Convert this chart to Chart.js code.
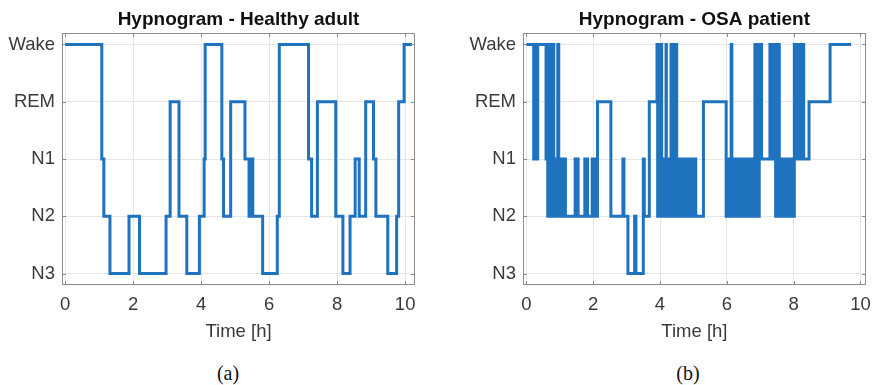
<!DOCTYPE html>
<html>
<head>
<meta charset="utf-8">
<script src="https://cdn.jsdelivr.net/npm/chart.js@4.4.0/dist/chart.umd.min.js"></script>
<style>
  html, body { margin: 0; padding: 0; background: #fff; }
  #wrap { position: relative; width: 880px; height: 385px; overflow: hidden; }
  .panel { position: absolute; top: 0; }
  .cap { position: absolute; top: 361px; line-height: 24px; font-size: 20px; font-family: "Liberation Serif", serif; color: #111; transform: translateX(-50%); }
</style>
</head>
<body>
<div id="wrap">
  <canvas id="healthy" class="panel" style="left:0" width="440" height="345"></canvas>
  <canvas id="osa" class="panel" style="left:440px" width="440" height="345"></canvas>
  <div class="cap" style="left:228px">(a)</div>
  <div class="cap" style="left:688px">(b)</div>
</div>
<script>
// sleep stages, bottom to top
const stageLabels = ["N3", "N2", "N1", "REM", "Wake"];
const timeTicks = [0, 2, 4, 6, 8, 10];

// healthy adult: start time of each stage [h]
const healthyTime = [0, 1.08, 1.14, 1.32, 1.88, 2.19, 2.97, 3.09, 3.35, 3.58, 3.95, 4.09, 4.12,
  4.61, 4.66, 4.87, 5.29, 5.41, 5.43, 5.45, 5.47, 5.49, 5.50, 5.52, 5.81, 6.24, 6.30, 7.16, 7.25,
  7.42, 7.96, 8.17, 8.38, 8.53, 8.65, 8.84, 9.07, 9.14, 9.49, 9.75, 9.81, 9.97, 10.2];
const healthyStage = ["Wake", "N1", "N2", "N3", "N2", "N3", "N2", "REM", "N2", "N3", "N2", "N1", "Wake",
  "N1", "N2", "REM", "N1", "N2", "N1", "N2", "N1", "N2", "N1", "N2", "N3", "N2", "Wake", "N1", "N2",
  "REM", "N2", "N3", "N2", "N1", "N2", "REM", "N1", "N2", "N3", "N2", "REM", "Wake", "Wake"];

// OSA patient
const osaTime = [0, 0.22, 0.25, 0.28, 0.34, 0.59, 0.62, 0.64, 0.67, 0.70, 0.73, 0.76, 0.79, 0.82,
  0.85, 0.88, 0.91, 0.94, 0.97, 1.00, 1.03, 1.06, 1.09, 1.12, 1.15, 1.17, 1.46, 1.55, 1.75, 1.83,
  1.97, 2.06, 2.13, 2.53, 2.89, 2.92, 3.04, 3.24, 3.28, 3.50, 3.53, 3.68, 3.91, 3.93, 3.95, 3.97,
  3.99, 4.01, 4.03, 4.05, 4.08, 4.10, 4.12, 4.14, 4.16, 4.18, 4.19, 4.22, 4.25, 4.28, 4.31, 4.33,
  4.36, 4.38, 4.41, 4.43, 4.46, 4.48, 4.50, 4.53, 4.56, 4.59, 4.62, 4.65, 4.68, 4.71, 4.80, 4.83,
  4.86, 4.89, 4.92, 4.95, 4.98, 5.01, 5.04, 5.07, 5.30, 5.98, 6.01, 6.04, 6.07, 6.10, 6.13, 6.15,
  6.18, 6.21, 6.24, 6.27, 6.30, 6.34, 6.37, 6.41, 6.44, 6.47, 6.50, 6.53, 6.57, 6.60, 6.63, 6.66,
  6.70, 6.73, 6.76, 6.79, 6.84, 6.86, 6.89, 6.92, 6.94, 6.97, 7.00, 7.04, 7.29, 7.32, 7.37, 7.40,
  7.46, 7.48, 7.51, 7.54, 7.57, 7.60, 7.63, 7.66, 7.69, 7.72, 7.75, 7.78, 7.81, 7.84, 7.87, 7.90,
  7.93, 7.96, 7.99, 8.02, 8.11, 8.15, 8.20, 8.23, 8.30, 8.46, 9.09, 9.72];
const osaStage = ["Wake", "N1", "Wake", "N1", "Wake", "N1", "Wake", "N2", "Wake", "N2", "Wake", "N1", "Wake", "N2",
  "N1", "N2", "N1", "Wake", "N1", "N2", "N1", "N2", "N1", "N2", "N1", "N2", "N1", "N2", "N1", "N2",
  "N1", "N2", "REM", "N2", "N1", "N2", "N3", "N2", "N3", "N1", "N2", "REM", "Wake", "N2", "Wake", "N2",
  "Wake", "N1", "Wake", "N2", "N1", "N2", "N1", "N2", "N1", "Wake", "N2", "N1", "N2", "N1", "N2", "Wake",
  "N2", "Wake", "N1", "Wake", "N2", "Wake", "N1", "N2", "N1", "N2", "N1", "N2", "N1", "N2", "N1", "N2",
  "N1", "N2", "N1", "N2", "N1", "N2", "N1", "N2", "REM", "N2", "N1", "N2", "N1", "N2", "Wake", "N2",
  "N1", "N2", "N1", "N2", "N1", "N2", "N1", "N2", "N1", "N2", "N1", "N2", "N1", "N2", "N1", "N2",
  "N1", "N2", "N1", "N2", "Wake", "N2", "N1", "Wake", "N2", "N1", "Wake", "N1", "Wake", "N1", "Wake", "N1",
  "N2", "Wake", "N1", "Wake", "N2", "N1", "N2", "N1", "N2", "N1", "N2", "N1", "N2", "N1", "N2", "N1",
  "N2", "N1", "N2", "Wake", "N1", "Wake", "N1", "Wake", "N1", "REM", "Wake", "Wake"];

const txt = "#3a3a3a";
const tickFont = { family: "'Liberation Sans', Arial, sans-serif", size: 18.5 };

// box round the axes + small inner ticks, like matlab
const frame = {
  id: "frame",
  afterDraw(chart) {
    const { ctx, chartArea: a, scales } = chart;
    ctx.save();
    ctx.strokeStyle = "#8c8c8c";
    ctx.lineWidth = 1;
    ctx.strokeRect(Math.round(a.left) + 0.5, Math.round(a.top) + 0.5,
      Math.round(a.right - a.left) - 1, Math.round(a.bottom - a.top) - 1);
    ctx.beginPath();
    scales.x.ticks.forEach((t) => {
      const x = Math.round(scales.x.getPixelForValue(t.value)) + 0.5;
      ctx.moveTo(x, a.bottom); ctx.lineTo(x, a.bottom - 4);
      ctx.moveTo(x, a.top); ctx.lineTo(x, a.top + 4);
    });
    scales.y.ticks.forEach((t) => {
      const y = Math.round(scales.y.getPixelForValue(t.value)) + 0.5;
      ctx.moveTo(a.left, y); ctx.lineTo(a.left + 4, y);
      ctx.moveTo(a.right, y); ctx.lineTo(a.right - 4, y);
    });
    ctx.stroke();
    ctx.restore();
  },
};

function hypnogram(id, title, times, stages, xMin, xMax, yWidth, padRight) {
  const points = times.map((t, i) => ({ x: t, y: stageLabels.indexOf(stages[i]) }));
  return new Chart(document.getElementById(id), {
    type: "line",
    data: {
      datasets: [{
        data: points,
        stepped: "before", // hold the stage until the next start time
        borderColor: "#1f72bd",
        borderWidth: 3,
        pointRadius: 0,
        fill: false,
      }],
    },
    options: {
      responsive: false,
      animation: false,
      layout: { padding: { left: 0, right: padRight, top: 0, bottom: 0 } },
      plugins: {
        legend: { display: false },
        tooltip: { enabled: false },
        title: {
          display: true,
          text: title,
          fullSize: false,
          color: "#111",
          font: { family: tickFont.family, size: 19, weight: "bold" },
          padding: { top: 8.5, bottom: 1.7 },
        },
      },
      scales: {
        x: {
          type: "linear",
          min: xMin,
          max: xMax,
          afterBuildTicks: (s) => { s.ticks = timeTicks.map((v) => ({ value: v })); },
          afterFit: (s) => { s.height = 60; },
          grid: { color: "#e6e6e6", drawTicks: false },
          border: { display: false },
          ticks: { padding: 9, color: txt, font: tickFont },
          title: { display: true, text: "Time [h]", color: txt, font: tickFont, padding: { top: 0, bottom: 1.9 } },
        },
        y: {
          min: -0.2,
          max: 4.2,
          afterBuildTicks: (s) => { s.ticks = stageLabels.map((_, i) => ({ value: i })); },
          afterFit: (s) => { s.width = yWidth; },
          grid: { color: "#e6e6e6", drawTicks: false },
          border: { display: false },
          ticks: { padding: 7, color: txt, font: tickFont, callback: (v) => stageLabels[v] },
        },
      },
    },
    plugins: [frame],
  });
}

hypnogram("healthy", "Hypnogram - Healthy adult", healthyTime, healthyStage, -0.09, 10.29, 62, 25);
hypnogram("osa", "Hypnogram - OSA patient", osaTime, osaStage, -0.1, 10.16, 83, 4);
</script>
</body>
</html>
